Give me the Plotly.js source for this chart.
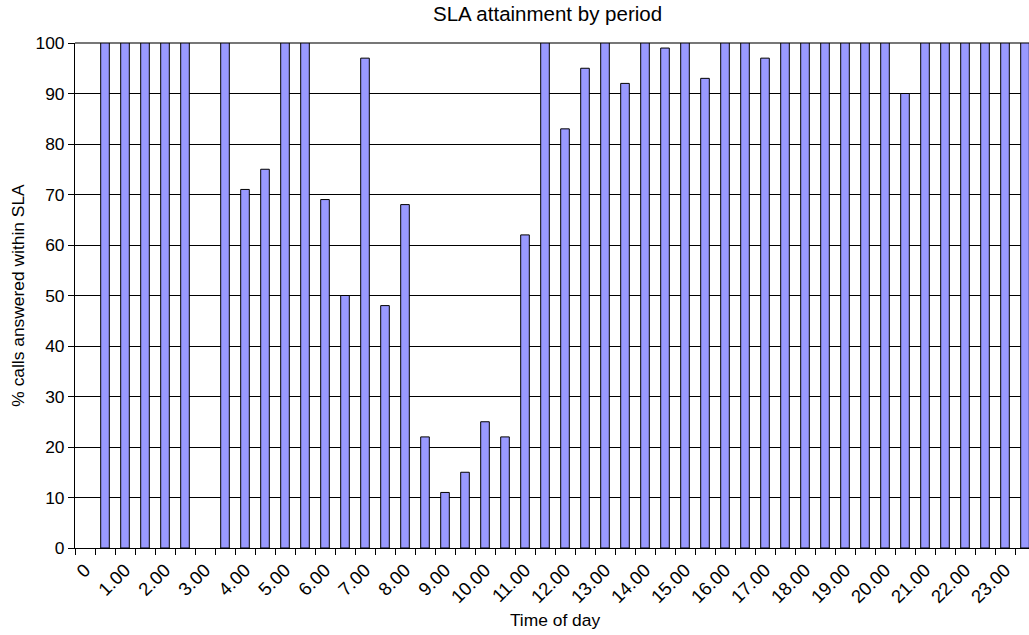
<!DOCTYPE html>
<html>
<head>
<meta charset="utf-8">
<script src="https://cdn.plot.ly/plotly-3.0.1.min.js"></script>
<style>
  html, body { margin: 0; padding: 0; background: #fff; overflow: hidden; }
  #chart { width: 1045px; height: 635px; }
</style>
</head>
<body>
<div id="chart"></div>
<script>
// Half-hour periods across the day
const periods = [
  '0', '0.30', '1.00', '1.30', '2.00', '2.30', '3.00', '3.30',
  '4.00', '4.30', '5.00', '5.30', '6.00', '6.30', '7.00', '7.30',
  '8.00', '8.30', '9.00', '9.30', '10.00', '10.30', '11.00', '11.30',
  '12.00', '12.30', '13.00', '13.30', '14.00', '14.30', '15.00', '15.30',
  '16.00', '16.30', '17.00', '17.30', '18.00', '18.30', '19.00', '19.30',
  '20.00', '20.30', '21.00', '21.30', '22.00', '22.30', '23.00', '23.30'
];

// % of calls answered within SLA in each period
const slaPercent = [
  0, 100, 100, 100, 100, 100, 0, 100,
  71, 75, 100, 100, 69, 50, 97, 48,
  68, 22, 11, 15, 25, 22, 62, 100,
  83, 95, 100, 92, 100, 99, 100, 93,
  100, 100, 97, 100, 100, 100, 100, 100,
  100, 90, 100, 100, 100, 100, 100, 100
];

// Only the whole hours carry a label
const hourLabels = [
  '0', '', '1.00', '', '2.00', '', '3.00', '',
  '4.00', '', '5.00', '', '6.00', '', '7.00', '',
  '8.00', '', '9.00', '', '10.00', '', '11.00', '',
  '12.00', '', '13.00', '', '14.00', '', '15.00', '',
  '16.00', '', '17.00', '', '18.00', '', '19.00', '',
  '20.00', '', '21.00', '', '22.00', '', '23.00', ''
];

const FONT = '"Liberation Sans", Arial, sans-serif';

// empty periods get no outline so nothing shows on the axis
const outlineWidths = slaPercent.map(v => (v > 0 ? 1 : 0));

const trace = {
  type: 'bar',
  x: periods,
  y: slaPercent,
  marker: { color: '#9999ff', line: { color: '#000000', width: outlineWidths } },
  hoverinfo: 'x+y'
};

const layout = {
  width: 1045,
  height: 635,
  margin: { l: 75, r: 10, t: 43, b: 87 },
  paper_bgcolor: '#ffffff',
  plot_bgcolor: '#ffffff',
  font: { family: FONT, color: '#000000', size: 17 },
  showlegend: false,
  bargap: 0.57,
  title: {
    text: 'SLA attainment by period',
    font: { family: FONT, size: 20.5, color: '#000000' },
    x: 0.524, xanchor: 'center',
    y: 0.979, yanchor: 'middle'
  },
  xaxis: {
    type: 'category',
    tickmode: 'array',
    tickvals: periods,
    ticktext: hourLabels,
    tickson: 'boundaries',
    ticks: 'outside',
    ticklen: 6,
    tickwidth: 1,
    tickcolor: '#000000',
    tickangle: -45,
    ticklabelstandoff: 3,
    tickfont: { family: FONT, size: 18.5 },
    showline: true,
    linecolor: '#000000',
    linewidth: 1,
    showgrid: false,
    zeroline: false,
    automargin: false,
    title: { text: 'Time of day', font: { family: FONT, size: 17.4 }, standoff: 7 }
  },
  yaxis: {
    range: [0, 100],
    dtick: 10,
    ticks: 'outside',
    ticklen: 6,
    tickwidth: 1,
    tickcolor: '#000000',
    tickfont: { family: FONT, size: 17.4 },
    showline: true,
    linecolor: '#000000',
    linewidth: 1,
    showgrid: true,
    gridcolor: '#000000',
    gridwidth: 1,
    zeroline: false,
    automargin: false,
    title: { text: '% calls answered within SLA', font: { family: FONT, size: 17.4 }, standoff: 6 }
  },
  shapes: [{
    // top border of the plot area in grey
    type: 'line', xref: 'paper', yref: 'paper',
    x0: 0, x1: 1, y0: 1, y1: 1,
    line: { color: '#777777', width: 2 },
    layer: 'below'
  }]
};

Plotly.newPlot('chart', [trace], layout, { displayModeBar: false, staticPlot: true });
</script>
</body>
</html>
